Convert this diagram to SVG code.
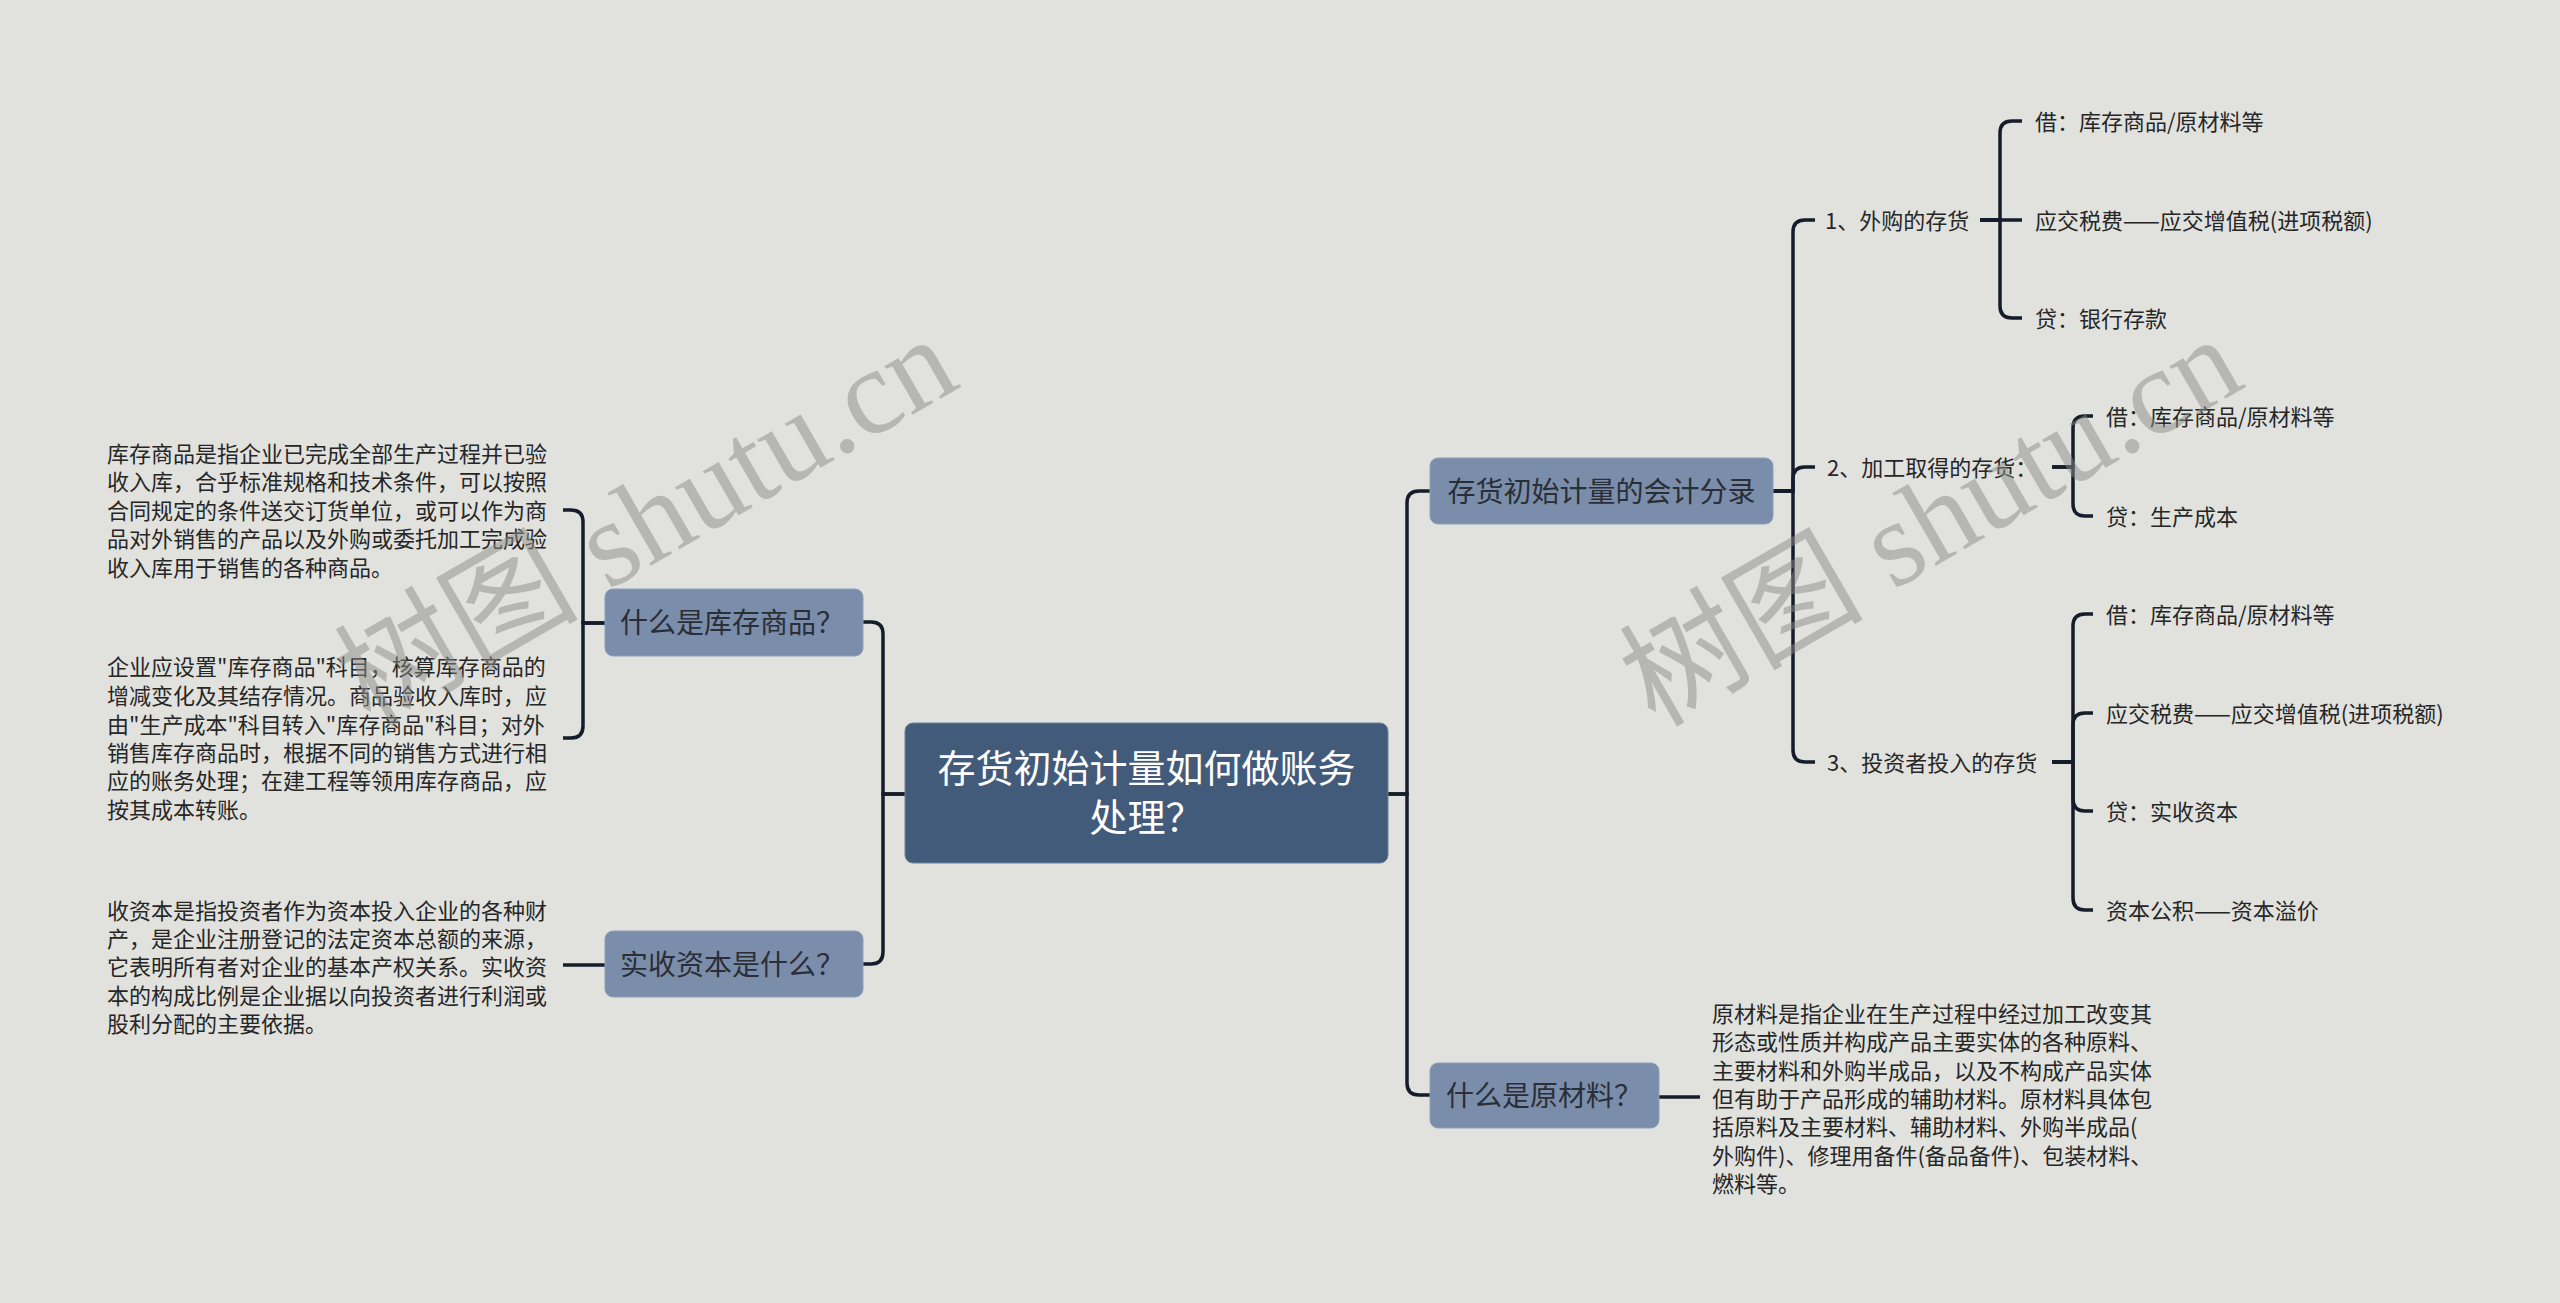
<svg xmlns="http://www.w3.org/2000/svg" width="2560" height="1303" viewBox="0 0 2560 1303">
<style>
.bg{fill:#e1e2de}
.root{fill:#435b7a;stroke:#6d809b;stroke-width:1}
.l1{fill:#7a8dab;stroke:#8e9fb8;stroke-width:1}
.rt{font-family:"Noto Sans CJK SC","Liberation Sans",sans-serif;font-size:38px;fill:#ffffff}
.t1{font-family:"Noto Sans CJK SC","Liberation Sans",sans-serif;font-size:28px;fill:#2a2e36}
.tx{font-family:"Noto Sans CJK SC","Liberation Sans",sans-serif;font-size:22px;fill:#262626}
.ln{fill:none;stroke:#151c2a;stroke-width:3.5}
.wm{font-family:"Liberation Serif","Noto Sans CJK SC",serif;font-size:122px;fill:#8c8c8a;opacity:0.5}
</style>
<rect class="bg" x="0" y="0" width="2560" height="1303"/>

<g id="connectors">
<path class="ln" d="M905 794 H883 V634 Q883 622 871 622 H862"/>
<path class="ln" d="M905 794 H883 V952 Q883 964 871 964 H862"/>
<path class="ln" d="M1388 794 H1407 V503 Q1407 491 1419 491 H1430"/>
<path class="ln" d="M1388 794 H1407 V1083 Q1407 1095 1419 1095 H1430"/>
<path class="ln" d="M605 623 H583 V522 Q583 510 571 510 H563"/>
<path class="ln" d="M605 623 H583 V726 Q583 738 571 738 H563"/>
<path class="ln" d="M605 965 H563"/>
<path class="ln" d="M1773 491 H1793 V232 Q1793 220 1805 220 H1815"/>
<path class="ln" d="M1773 491 H1793 V479 Q1793 467 1805 467 H1815"/>
<path class="ln" d="M1773 491 H1793 V750 Q1793 762 1805 762 H1815"/>
<path class="ln" d="M1980 220 H2000 V133 Q2000 121 2012 121 H2022"/>
<path class="ln" d="M1980 220 H2022"/>
<path class="ln" d="M1980 220 H2000 V306 Q2000 318 2012 318 H2022"/>
<path class="ln" d="M2052 467 H2073 V428 Q2073 416 2085 416 H2093"/>
<path class="ln" d="M2052 467 H2073 V504 Q2073 516 2085 516 H2093"/>
<path class="ln" d="M2052 762 H2073 V626 Q2073 614 2085 614 H2093"/>
<path class="ln" d="M2052 762 H2073 V725 Q2073 713 2085 713 H2093"/>
<path class="ln" d="M2052 762 H2073 V799 Q2073 811 2085 811 H2093"/>
<path class="ln" d="M2052 762 H2073 V898 Q2073 910 2085 910 H2093"/>
<path class="ln" d="M1659 1097 H1700"/>
</g>

<g id="root">
<rect class="root" x="905" y="723" width="483" height="140" rx="8"/>
<text class="rt" x="1146.5" y="782" text-anchor="middle">存货初始计量如何做账务</text>
<text class="rt" x="1146.5" y="831" text-anchor="middle">处理？</text>
</g>

<g id="n-kucun">
<rect class="l1" x="605" y="589" width="258" height="67" rx="8"/>
<text class="t1" x="620" y="633">什么是库存商品？</text>
</g>
<g id="n-kucun-t1">
<text class="tx" x="107" y="461.5">库存商品是指企业已完成全部生产过程并已验</text>
<text class="tx" x="107" y="490">收入库，合乎标准规格和技术条件，可以按照</text>
<text class="tx" x="107" y="518.5">合同规定的条件送交订货单位，或可以作为商</text>
<text class="tx" x="107" y="547">品对外销售的产品以及外购或委托加工完成验</text>
<text class="tx" x="107" y="575.5">收入库用于销售的各种商品。</text>
</g>
<g id="n-kucun-t2">
<text class="tx" x="107" y="675">企业应设置"库存商品"科目，核算库存商品的</text>
<text class="tx" x="107" y="704">增减变化及其结存情况。商品验收入库时，应</text>
<text class="tx" x="107" y="732.5">由"生产成本"科目转入"库存商品"科目；对外</text>
<text class="tx" x="107" y="761">销售库存商品时，根据不同的销售方式进行相</text>
<text class="tx" x="107" y="789">应的账务处理；在建工程等领用库存商品，应</text>
<text class="tx" x="107" y="817.5">按其成本转账。</text>
</g>

<g id="n-shishou">
<rect class="l1" x="605" y="931" width="258" height="66" rx="8"/>
<text class="t1" x="620" y="975">实收资本是什么？</text>
</g>
<g id="n-shishou-t">
<text class="tx" x="107" y="918.5">收资本是指投资者作为资本投入企业的各种财</text>
<text class="tx" x="107" y="947">产，是企业注册登记的法定资本总额的来源，</text>
<text class="tx" x="107" y="975">它表明所有者对企业的基本产权关系。实收资</text>
<text class="tx" x="107" y="1003.5">本的构成比例是企业据以向投资者进行利润或</text>
<text class="tx" x="107" y="1032">股利分配的主要依据。</text>
</g>

<g id="n-fenlu">
<rect class="l1" x="1430" y="458" width="343" height="66" rx="8"/>
<text class="t1" x="1601.5" y="502" text-anchor="middle">存货初始计量的会计分录</text>
</g>
<g id="n-waigou"><text class="tx" x="1825" y="228.5">1、外购的存货</text></g>
<g id="n-wg1"><text class="tx" x="2035" y="129.5">借：库存商品/原材料等</text></g>
<g id="n-wg2"><text class="tx" x="2035" y="228.5">应交税费——应交增值税(进项税额)</text></g>
<g id="n-wg3"><text class="tx" x="2035" y="326.5">贷：银行存款</text></g>
<g id="n-jiagong"><text class="tx" x="1827" y="475.5">2、加工取得的存货：</text></g>
<g id="n-jg1"><text class="tx" x="2106" y="424.5">借：库存商品/原材料等</text></g>
<g id="n-jg2"><text class="tx" x="2106" y="524.5">贷：生产成本</text></g>
<g id="n-touzi"><text class="tx" x="1827" y="770.5">3、投资者投入的存货</text></g>
<g id="n-tz1"><text class="tx" x="2106" y="622.5">借：库存商品/原材料等</text></g>
<g id="n-tz2"><text class="tx" x="2106" y="721.5">应交税费——应交增值税(进项税额)</text></g>
<g id="n-tz3"><text class="tx" x="2106" y="819.5">贷：实收资本</text></g>
<g id="n-tz4"><text class="tx" x="2106" y="918.5">资本公积——资本溢价</text></g>

<g id="n-yuancailiao">
<rect class="l1" x="1430" y="1063" width="229" height="65" rx="8"/>
<text class="t1" x="1446" y="1106">什么是原材料？</text>
</g>
<g id="n-yuancailiao-t">
<text class="tx" x="1712" y="1021.5">原材料是指企业在生产过程中经过加工改变其</text>
<text class="tx" x="1712" y="1050">形态或性质并构成产品主要实体的各种原料、</text>
<text class="tx" x="1712" y="1078.5">主要材料和外购半成品，以及不构成产品实体</text>
<text class="tx" x="1712" y="1106.5">但有助于产品形成的辅助材料。原材料具体包</text>
<text class="tx" x="1712" y="1135">括原料及主要材料、辅助材料、外购半成品(</text>
<text class="tx" x="1712" y="1163.5">外购件)、修理用备件(备品备件)、包装材料、</text>
<text class="tx" x="1712" y="1191.5">燃料等。</text>
</g>

<g id="watermarks">
<text class="wm" x="370" y="728" transform="rotate(-30 370 728)">树图 shutu.cn</text>
<text class="wm" x="1655" y="728" transform="rotate(-30 1655 728)">树图 shutu.cn</text>
</g>
</svg>
